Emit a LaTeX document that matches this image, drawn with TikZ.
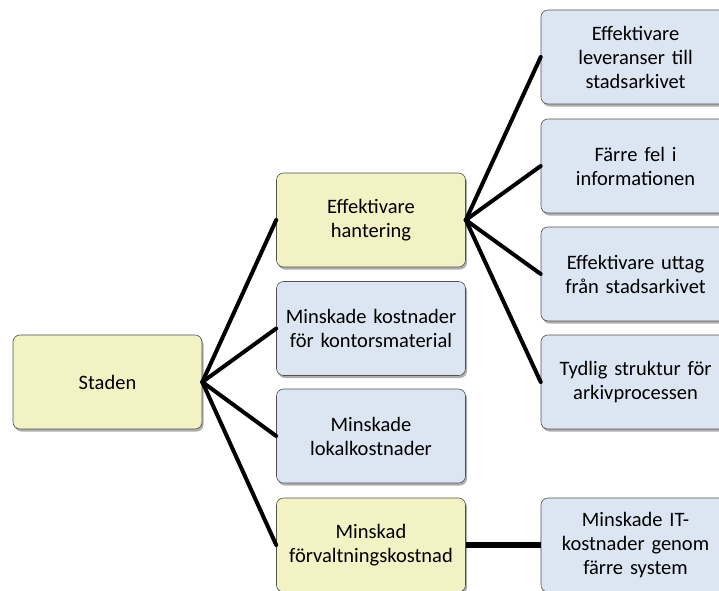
\documentclass[tikz,border=0pt]{standalone}
\usepackage{fontspec}
\setmainfont{Carlito}
\usetikzlibrary{shadows}
\definecolor{yellowfill}{RGB}{243,242,196}
\definecolor{bluefill}{RGB}{220,230,242}
\definecolor{edgegray}{RGB}{80,80,80}
\begin{document}
\begin{tikzpicture}[x=1pt,y=-1pt,
  box/.style={draw=edgegray, line width=0.6pt, rounded corners=7pt,
    minimum width=189pt, minimum height=94pt, text width=186pt,
    align=center, font=\fontsize{20.5}{24}\selectfont, inner sep=0pt,
    drop shadow={shadow xshift=1.5pt, shadow yshift=-2.5pt, opacity=0.45, fill=black!70}},
  ybox/.style={box, fill=yellowfill},
  bbox/.style={box, fill=bluefill},
  link/.style={line width=4pt, line cap=round}]
\useasboundingbox (0,0) rectangle (719,590);
\node[ybox] (staden) at (107.5,382) {Staden};
\node[ybox] (hant) at (371,220) {Effektivare\\hantering};
\node[bbox] (kontor) at (371,328.5) {Minskade kostnader\\för kontorsmaterial};
\node[bbox] (lokal) at (371,436) {Minskade\\lokalkostnader};
\node[ybox] (forv) at (371,545) {Minskad\\förvaltningskostnad};
\node[bbox] (lev) at (635.5,57) {Effektivare\\leveranser till\\stadsarkivet};
\node[bbox] (fel) at (635.5,166) {Färre fel i\\informationen};
\node[bbox] (uttag) at (635.5,274) {Effektivare uttag\\från stadsarkivet};
\node[bbox] (strukt) at (635.5,382) {Tydlig struktur för\\arkivprocessen};
\node[bbox] (it) at (635.5,545) {Minskade IT-\\kostnader genom\\färre system};
\foreach \t in {hant,kontor,lokal,forv}
  \draw[link] (staden.east) -- (\t.west);
\foreach \t in {lev,fel,uttag,strukt}
  \draw[link] (hant.east) -- (\t.west);
\draw[line width=5.5pt] (forv.east) -- (it.west);
\end{tikzpicture}
\end{document}
